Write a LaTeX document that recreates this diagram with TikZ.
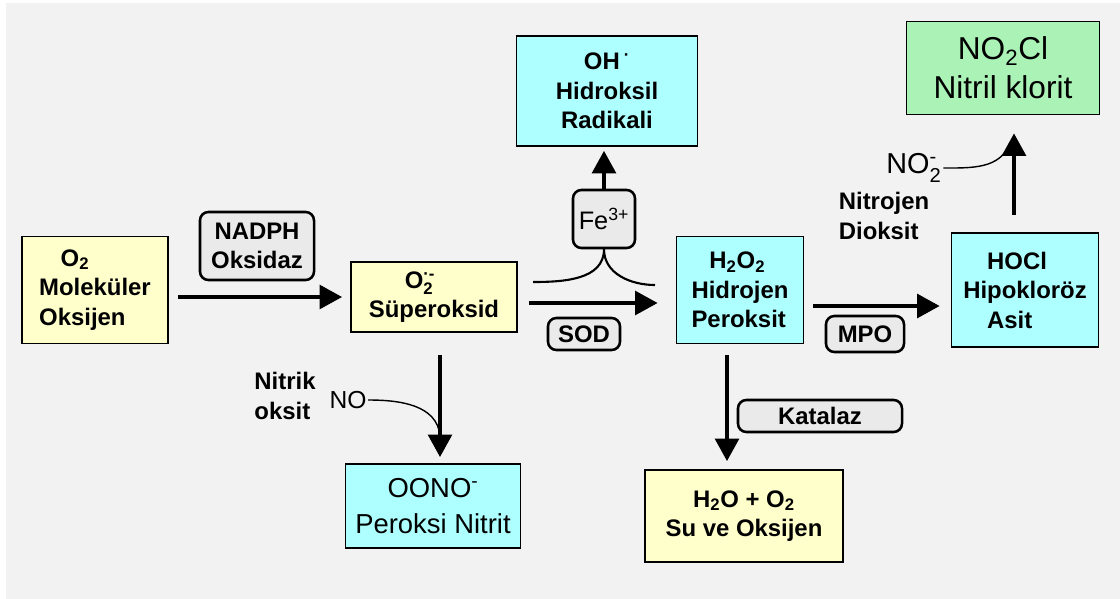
\documentclass[tikz,border=0pt]{standalone}
\usepackage{amsmath}
\usepackage{fontspec}
\setmainfont{Liberation Sans}
\usetikzlibrary{arrows.meta}

\definecolor{bggray}{RGB}{242,242,242}
\definecolor{molyellow}{RGB}{255,255,204}
\definecolor{molcyan}{RGB}{174,255,255}
\definecolor{molgreen}{RGB}{170,242,182}
\definecolor{enzgray}{RGB}{234,234,234}

\begin{document}
\begin{tikzpicture}[x=0.025cm, y=-0.025cm]
%define
\tikzstyle{mol} = [rectangle, draw=black, line width=1.3pt, inner sep=0pt, align=center, font=\bfseries\fontsize{17}{21}\selectfont]
\tikzstyle{enzyme} = [rectangle, rounded corners=6pt, draw=black, line width=1.8pt, fill=enzgray, inner sep=0pt, align=center, font=\bfseries\fontsize{17}{21}\selectfont]
\tikzstyle{arrow} = [-{Triangle[length=16pt, width=17pt]}, line width=2.3pt]
\tikzstyle{feed} = [line width=1pt]
\tikzstyle{side} = [inner sep=1pt, align=left, font=\bfseries\fontsize{17}{21}\selectfont]
\tikzstyle{formula} = [inner sep=1pt, font=\fontsize{17.5}{21}\selectfont]

% background
\useasboundingbox (0,0) rectangle (1120,599);
\fill[white] (0,0) rectangle (1120,599);
\fill[bggray] (6,3) rectangle (1120,599);

% molecules
\node[mol, fill=molyellow, minimum width=3.65cm, minimum height=2.675cm, align=left](o2) at (95,290){\hspace*{0.9em}O\textsubscript{2}\\Moleküler\\Oksijen};
\node[mol, fill=molyellow, minimum width=4.15cm, minimum height=1.75cm, align=left](sup) at (434,297){\hspace*{1.5em}O$_{\text{2}}^{\text{·-}}$\\Süperoksid};
\node[mol, fill=molcyan, minimum width=4.525cm, minimum height=2.75cm](oh) at (607,91){OH\,\textsuperscript{·}\\Hidroksil\\Radikali};
\node[mol, fill=molcyan, minimum width=3.175cm, minimum height=2.675cm, align=left](hp) at (740,290){\hspace*{0.75em}H\textsubscript{2}O\textsubscript{2}\\Hidrojen\\Peroksit};
\node[mol, fill=molcyan, minimum width=3.675cm, minimum height=2.85cm, align=left](hocl) at (1025,290){\hspace*{1em}HOCl\\Hipokloröz\\\hspace*{1em}Asit};
\node[mol, fill=molgreen, minimum width=4.825cm, minimum height=2.325cm, font=\fontsize{22.5}{28}\selectfont](nocl) at (1003,68){NO\textsubscript{2}Cl\\Nitril klorit};
\node[mol, fill=molcyan, minimum width=4.375cm, minimum height=2.1cm, font=\fontsize{19.5}{25}\selectfont](oono) at (433,506){OONO\textsuperscript{-}\\Peroksi Nitrit};
\node[mol, fill=molyellow, minimum width=4.95cm, minimum height=2.3cm](suox) at (744,516){H\textsubscript{2}O + O\textsubscript{2}\\Su ve Oksijen};

% enzymes
\node[enzyme, minimum width=2.85cm, minimum height=1.7cm](nadph) at (257,246){NADPH\\Oksidaz};
\node[enzyme, minimum width=1.55cm, minimum height=1.45cm, font=\fontsize{18}{21}\selectfont](fe) at (604,219){Fe$^{\text{3+}}$};
\node[enzyme, minimum width=1.8cm, minimum height=0.8cm](sod) at (584,334){SOD};
\node[enzyme, minimum width=1.95cm, minimum height=0.9cm](mpo) at (865,334){MPO};
\node[enzyme, minimum width=4.1cm, minimum height=0.8cm](kat) at (820,416){Katalaz};

% side labels
\node[side](nitrik) at (285,396){Nitrik\\oksit};
\node[formula](no) at (348,400){NO};
\node[side](nitrojen) at (884,216){Nitrojen\\Dioksit};
\node[formula, font=\fontsize{20.5}{24}\selectfont](no2) at (914,168){NO$_{\text{2}}^{\text{-}}$};

% rows and columns
\coordinate (rowA) at (0,303);
\coordinate (rowB) at (0,306);
\coordinate (colA) at (440,0);
\coordinate (colB) at (727,0);
\coordinate (colC) at (1014,0);
\coordinate (feL) at (533,282);
\coordinate (feR) at (655,285);
\coordinate (noin) at (440,436);
\coordinate (no2in) at (1010,143);

% reactions
\draw[arrow, shorten <=6.4pt, shorten >=5.7pt](o2.east |- sup.west) -- (sup.west);
\draw[arrow, shorten <=7.8pt, shorten >=12.8pt](sup.east |- rowA) -- (hp.west |- rowA);
\draw[arrow, shorten <=6.4pt, shorten >=7.8pt](hp.east |- rowB) -- (hocl.west |- rowB);
\draw[arrow, shorten <=16pt, shorten >=4.3pt](colA |- sup.south) -- (colA |- oono.north);
\draw[arrow, shorten <=7.8pt, shorten >=5.7pt](colB |- hp.south) -- (colB |- suox.north);
\draw[arrow, shorten >=2.8pt](fe.north) -- (fe.north |- oh.south);
\draw[arrow, shorten <=12pt, shorten >=12.8pt](colC |- hocl.north) -- (colC |- nocl.south);

\draw[line width=1.5pt](feL) to[out=0, in=-90] (fe.south) to[out=-90, in=180] (feR);
\draw[feed](no.east) to[out=0, in=95] (noin);
\draw[feed](no2.east) to[out=0, in=-110] (no2in);

\end{tikzpicture}
\end{document}
